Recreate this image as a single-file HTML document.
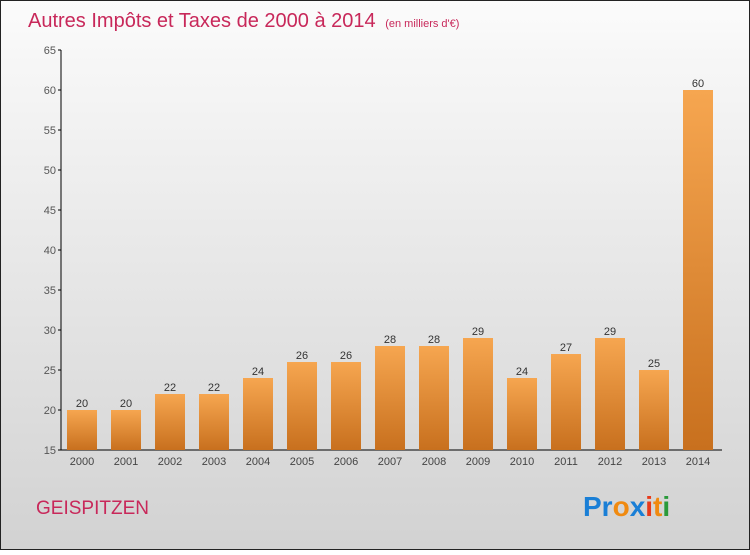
<!DOCTYPE html>
<html><head><meta charset="utf-8"><style>
body{margin:0;width:750px;height:550px;overflow:hidden;font-family:"Liberation Sans",sans-serif}
</style></head><body>
<svg width="750" height="550">
<defs>
<linearGradient id="bg" x1="0" y1="0" x2="0" y2="1"><stop offset="0" stop-color="#fbfbfb"/><stop offset="1" stop-color="#d2d2d2"/></linearGradient>
<linearGradient id="bar" x1="0" y1="0" x2="0" y2="1"><stop offset="0" stop-color="#f6a650"/><stop offset="1" stop-color="#c8701e"/></linearGradient>
</defs>
<rect x="0.5" y="0.5" width="749" height="549" fill="url(#bg)" stroke="#222"/>
<text x="28" y="27" font-size="20" fill="#c8285a">Autres Impôts et Taxes de 2000 à 2014 <tspan font-size="11" dx="4">(en milliers d'€)</tspan></text>
<g id="axes"></g>
<g id="bars"></g>
<text x="36" y="514" font-size="19" fill="#c8285a">GEISPITZEN</text>
<text x="583" y="516" font-size="28" font-weight="bold"><tspan fill="#1a7fd6">Pr</tspan><tspan fill="#f08a10">o</tspan><tspan fill="#1a7fd6">x</tspan><tspan fill="#e83a1a">i</tspan><tspan fill="#f08a10">t</tspan><tspan fill="#2a9a3a">i</tspan></text>
</svg>
<script>
const years=["2000","2001","2002","2003","2004","2005","2006","2007","2008","2009","2010","2011","2012","2013","2014"];
const values=[20,20,22,22,24,26,26,28,28,29,24,27,29,25,60];
const yTicks=[15,20,25,30,35,40,45,50,55,60,65];
const NS="http://www.w3.org/2000/svg";
const y=v=>450-(v-15)*8;
const x=i=>82+i*44;
function mk(t,a,p){const e=document.createElementNS(NS,t);for(const k in a)e.setAttribute(k,a[k]);p.appendChild(e);return e;}
const ax=document.getElementById('axes'),bg=document.getElementById('bars');
const yl=mk('line',{x1:61,y1:50,x2:61,y2:450,stroke:'#000'},ax);


const xl=mk('line',{x1:61,y1:450,x2:722,y2:450,stroke:'#000'},ax);


yTicks.forEach(v=>{
 mk('line',{x1:58,y1:y(v),x2:61,y2:y(v),stroke:'#000'},ax);
 const t=mk('text',{x:56,y:y(v)+4,'font-size':11,fill:'#555','text-anchor':'end'},ax);t.textContent=v;
 
 
});
years.forEach((yr,i)=>{
 const r=mk('rect',{x:x(i)-15,y:y(values[i]),width:30,height:450-y(values[i]),fill:'url(#bar)'},bg);
 
 
 const l=mk('text',{x:x(i),y:y(values[i])-3,'font-size':11,fill:'#333','text-anchor':'middle'},bg);l.textContent=values[i];
 
 
 const t=mk('text',{x:x(i),y:465,'font-size':11,fill:'#444','text-anchor':'middle'},ax);t.textContent=yr;
 
 
});
</script>
</body></html>
